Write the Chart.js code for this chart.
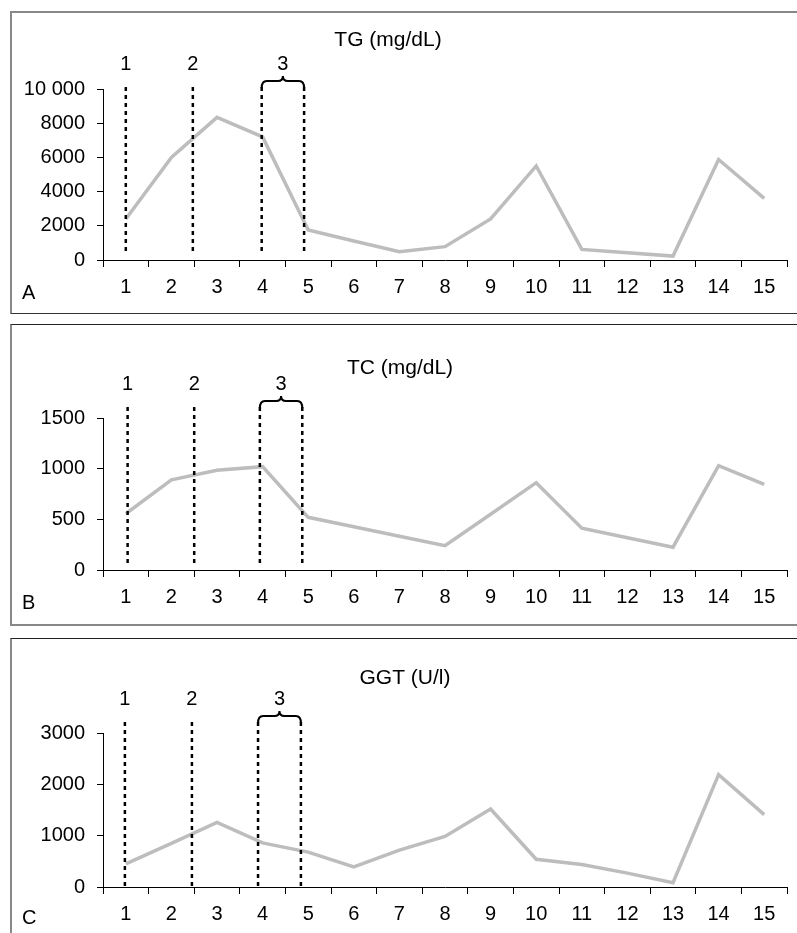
<!DOCTYPE html>
<html>
<head>
<meta charset="utf-8">
<script src="https://cdn.jsdelivr.net/npm/chart.js@4"></script>
<style>
  body { margin: 0; background: #fff; width: 797px; height: 933px; position: relative; overflow: hidden; }
  canvas { position: absolute; left: 0; }
  .frame { position: absolute; left: 10px; right: -6px; box-sizing: border-box; pointer-events: none; }
</style>
</head>
<body>
<canvas id="tg" width="797" height="313" style="top:0"></canvas>
<canvas id="tc" width="797" height="313" style="top:313px"></canvas>
<canvas id="ggt" width="797" height="307" style="top:626px"></canvas>
<div class="frame" style="top:11px;height:303px;border-left:2px solid #888;border-top:2px solid #888;border-bottom:1px solid #333"></div>
<div class="frame" style="top:324px;height:302px;border-left:2px solid #888;border-top:1px solid #222;border-bottom:2px solid #888"></div>
<div class="frame" style="top:638px;height:310px;border-left:2px solid #888;border-top:1px solid #222"></div>
<script>
const days = ["1", "2", "3", "4", "5", "6", "7", "8", "9", "10", "11", "12", "13", "14", "15"];
const tgValues = [2400, 6000, 8340, 7200, 1750, 1110, 480, 780, 2400, 5500, 620, 420, 230, 5880, 3600];
const tcValues = [555, 890, 985, 1020, 520, 427, 333, 240, 550, 862, 412, 318, 225, 1030, 845];
const ggtValues = [450, 850, 1260, 860, 680, 390, 720, 985, 1520, 540, 440, 270, 85, 2190, 1410];
const markerLabels = ["1", "2", "3"];
// marker lines, in category units (0 = day 1)
const tgMarkers = [0, 1.47, 2.98, 3.91];
const tcMarkers = [0.04, 1.5, 2.94, 3.87];
const ggtMarkers = [-0.02, 1.45, 2.9, 3.84];

const FONT = '"Liberation Sans", Arial, sans-serif';

const annot = {
  id: "annot",
  afterDraw(chart, args, o) {
    const { ctx, chartArea } = chart;
    const x = chart.scales.x;
    ctx.save();
    ctx.fillStyle = "#000";
    ctx.textBaseline = "middle";
    ctx.font = "21px " + FONT;
    ctx.textAlign = "center";
    ctx.fillText(o.title, o.titleX, o.titleY);
    ctx.font = "20px " + FONT;
    ctx.textAlign = "left";
    ctx.fillText(o.letter, 22, o.letterY);

    const top = chartArea.top - o.above;
    const bottom = chartArea.bottom - o.below;
    const xs = o.markers.map((m) => x.getPixelForValue(m));
    ctx.strokeStyle = "#000";
    ctx.lineWidth = 2.5;
    ctx.setLineDash([4, 4]);
    xs.forEach((px) => {
      ctx.beginPath();
      ctx.moveTo(px, top);
      ctx.lineTo(px, bottom);
      ctx.stroke();
    });
    ctx.setLineDash([]);

    ctx.textAlign = "center";
    ctx.fillText(markerLabels[0], xs[0], top - 23);
    ctx.fillText(markerLabels[1], xs[1], top - 23);
    const mid = (xs[2] + xs[3]) / 2;
    ctx.fillText(markerLabels[2], mid, top - 23);

    // curly brace over the third interval
    const a = xs[2], b = xs[3], h = top - 6, r = 5;
    ctx.lineWidth = 2;
    ctx.beginPath();
    ctx.moveTo(a, top + 1);
    ctx.quadraticCurveTo(a, h, a + r, h);
    ctx.lineTo(mid - r, h);
    ctx.quadraticCurveTo(mid, h, mid, h - 5);
    ctx.quadraticCurveTo(mid, h, mid + r, h);
    ctx.lineTo(b - r, h);
    ctx.quadraticCurveTo(b, h, b, top + 1);
    ctx.stroke();
    ctx.restore();
  },
};

function fmt(v) {
  return v >= 10000 ? String(v).replace(/(\d)(?=(\d{3})+$)/g, "$1 ") : String(v);
}

function panel(id, values, max, step, padBottom, padTop, extra) {
  new Chart(document.getElementById(id), {
    type: "line",
    data: {
      labels: days,
      datasets: [{
        data: values,
        borderColor: "#bdbdbd",
        borderWidth: 3.5,
        pointRadius: 0,
        tension: 0,
        fill: false,
      }],
    },
    options: {
      responsive: false,
      animation: false,
      layout: { padding: { left: 13, right: 10, top: padTop, bottom: padBottom } },
      plugins: { legend: { display: false }, tooltip: { enabled: false }, annot: extra },
      scales: {
        x: {
          offset: true,
          grid: { offset: true, drawOnChartArea: false, tickLength: 7, color: "#000" },
          border: { color: "#000", width: 1 },
          ticks: { color: "#000", padding: 8, font: { size: 20, family: FONT }, maxRotation: 0, autoSkip: false },
          afterFit: (s) => { s.height = 40; },
        },
        y: {
          min: 0,
          max: max,
          grid: { drawOnChartArea: false, tickLength: 6, color: "#000" },
          border: { color: "#000", width: 1 },
          ticks: { stepSize: step, color: "#000", padding: 12, font: { size: 20, family: FONT }, callback: fmt },
          afterFit: (s) => { s.width = 90; },
        },
      },
    },
    plugins: [annot],
  });
}

panel("tg", tgValues, 10000, 2000, 13, 89,
  { title: "TG (mg/dL)", titleX: 388, titleY: 40, letter: "A", letterY: 293, markers: tgMarkers, above: 2, below: 7 });
panel("tc", tcValues, 1500, 500, 16, 105,
  { title: "TC (mg/dL)", titleX: 400, titleY: 55, letter: "B", letterY: 290, markers: tcMarkers, above: 11, below: 7 });
panel("ggt", ggtValues, 3000, 1000, 6, 107,
  { title: "GGT (U/l)", titleX: 405, titleY: 52, letter: "C", letterY: 292, markers: ggtMarkers, above: 11, below: 0 });
</script>
</body>
</html>
